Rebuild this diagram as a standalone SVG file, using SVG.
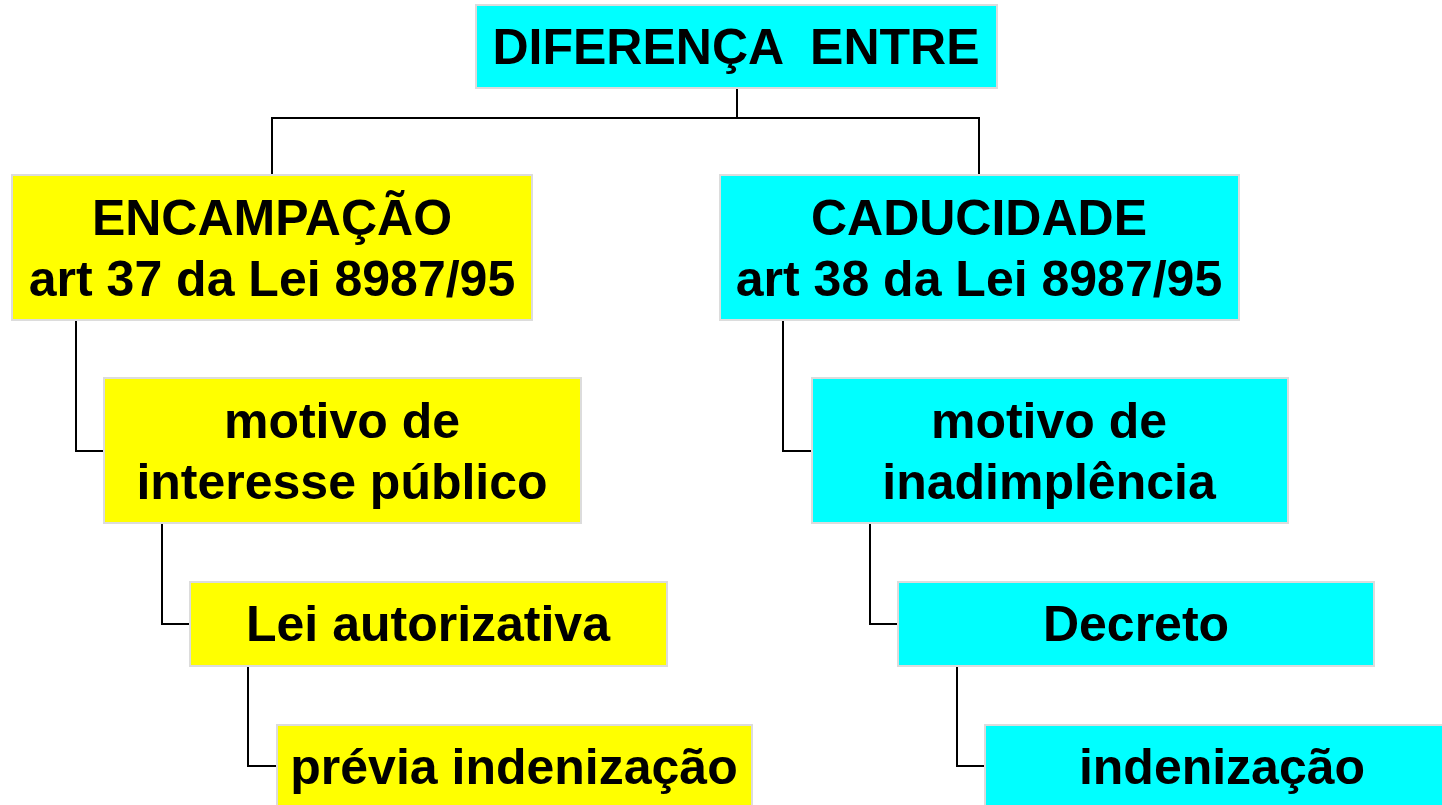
<svg xmlns="http://www.w3.org/2000/svg" width="1442" height="805" viewBox="0 0 1442 805">
<style>
.box{stroke:#dcdcdc;stroke-width:2}
.y{fill:#ffff00}
.c{fill:#00ffff}
.t{font-family:"Liberation Sans",Arial,sans-serif;font-weight:bold;font-size:50px;fill:#000;text-anchor:middle}
.ln{fill:none;stroke:#000;stroke-width:2}
</style>
<rect width="1442" height="805" fill="#fff"/>
<g id="connectors">
<polyline class="ln" points="737,88 737,118"/>
<polyline class="ln" points="272,175 272,118 979,118 979,175"/>
<polyline class="ln" points="76,320 76,451 104,451"/>
<polyline class="ln" points="783,320 783,451 812,451"/>
<polyline class="ln" points="162,523 162,624 190,624"/>
<polyline class="ln" points="870,523 870,624 898,624"/>
<polyline class="ln" points="248,666 248,766 277,766"/>
<polyline class="ln" points="957,666 957,766 985,766"/>
</g>
<g id="root">
<rect class="box c" x="476" y="5" width="521" height="83"/>
<text class="t" x="736" y="64" xml:space="preserve" style="white-space:pre">DIFERENÇA  ENTRE</text>
</g>
<g id="encampacao">
<rect class="box y" x="12" y="175" width="520" height="145"/>
<text class="t" x="272" y="235">ENCAMPAÇÃO</text>
<text class="t" x="272" y="296">art 37 da Lei 8987/95</text>
</g>
<g id="caducidade">
<rect class="box c" x="720" y="175" width="519" height="145"/>
<text class="t" x="979" y="235">CADUCIDADE</text>
<text class="t" x="979" y="296">art 38 da Lei 8987/95</text>
</g>
<g id="motivo-interesse">
<rect class="box y" x="104" y="378" width="477" height="145"/>
<text class="t" x="342" y="438">motivo de</text>
<text class="t" x="342" y="499">interesse público</text>
</g>
<g id="motivo-inadimplencia">
<rect class="box c" x="812" y="378" width="476" height="145"/>
<text class="t" x="1049" y="438">motivo de</text>
<text class="t" x="1049" y="499">inadimplência</text>
</g>
<g id="lei-autorizativa">
<rect class="box y" x="190" y="582" width="477" height="84"/>
<text class="t" x="428" y="641">Lei autorizativa</text>
</g>
<g id="decreto">
<rect class="box c" x="898" y="582" width="476" height="84"/>
<text class="t" x="1136" y="641">Decreto</text>
</g>
<g id="previa-indenizacao">
<rect class="box y" x="277" y="725" width="475" height="90"/>
<text class="t" x="514" y="784">prévia indenização</text>
</g>
<g id="indenizacao">
<rect class="box c" x="985" y="725" width="470" height="90"/>
<text class="t" x="1222" y="784">indenização</text>
</g>
</svg>
